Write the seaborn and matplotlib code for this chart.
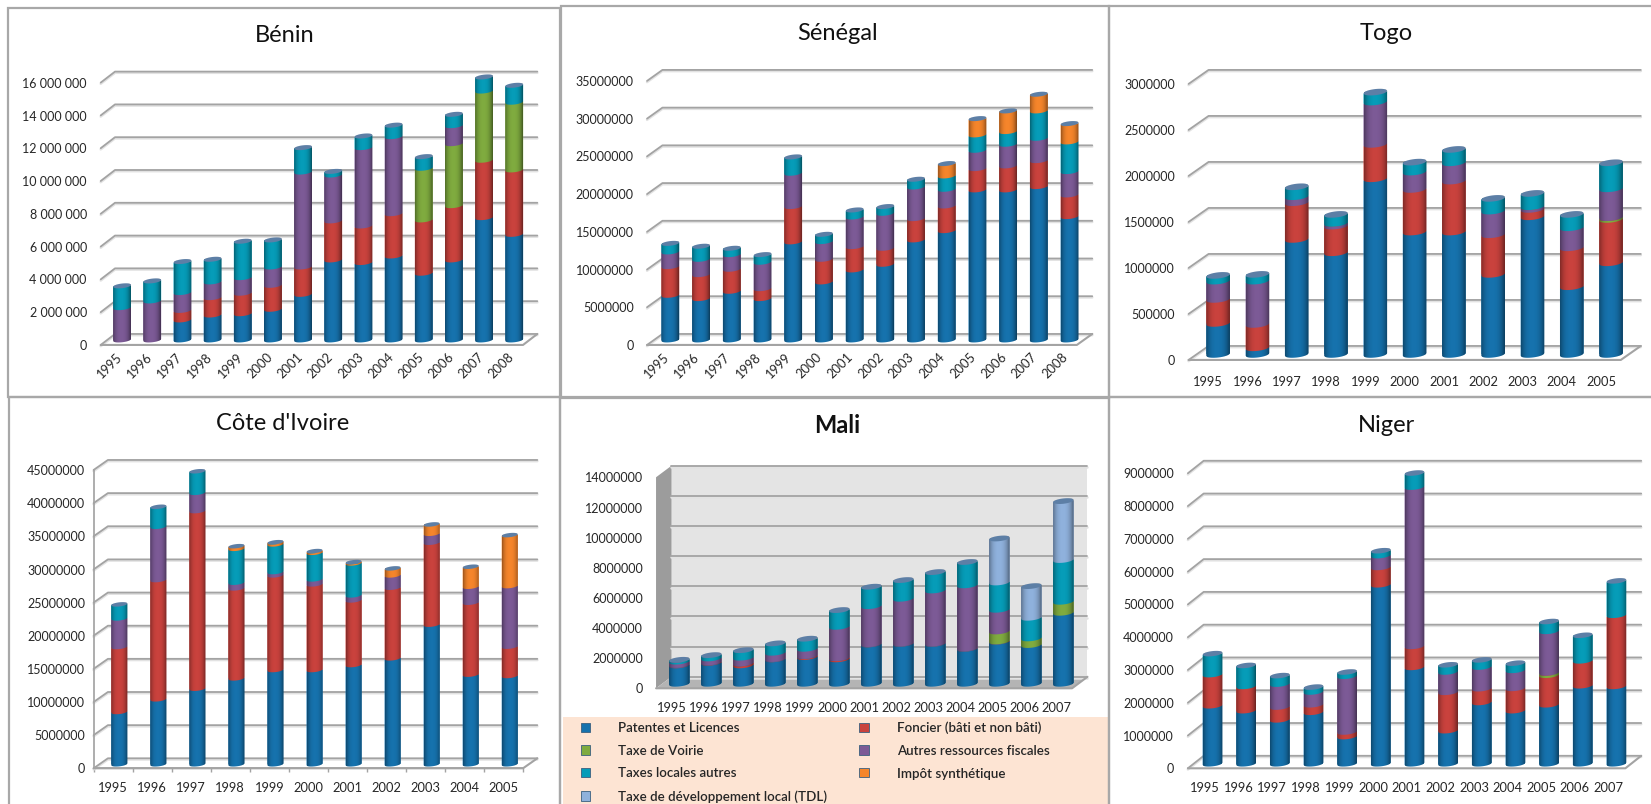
import numpy as np
import pandas as pd
import matplotlib
matplotlib.use('Agg')
import matplotlib.pyplot as plt
from matplotlib.patches import Patch, Polygon, Rectangle
import seaborn as sns

W, H = 1651, 804

# values in millions
years_14 = [str(y) for y in range(1995, 2009)]
years_13 = [str(y) for y in range(1995, 2008)]
years_11 = [str(y) for y in range(1995, 2006)]

benin_patentes = [0, 0, 1.22, 1.52, 1.6, 1.87, 2.78, 4.88, 4.72, 5.12, 4.07, 4.88, 7.46, 6.44]
benin_foncier = [0, 0, .58, 1.06, 1.25, 1.46, 1.67, 2.38, 2.23, 2.58, 3.25, 3.31, 3.5, 3.93]
benin_voirie = [0, 0, 0, 0, 0, 0, 0, 0, 0, 0, 3.15, 3.78, 4.22, 4.13]
benin_autres = [1.97, 2.38, 1.09, .96, .95, 1.12, 5.79, 2.8, 4.78, 4.7, 0, 1.1, 0, 0]
benin_taxes = [1.33, 1.22, 1.89, 1.38, 2.22, 1.65, 1.49, .22, .71, .7, .71, .69, .86, 1.03]

senegal_patentes = [5.92, 5.48, 6.45, 5.48, 13.0, 7.69, 9.28, 10.03, 13.26, 14.49, 19.89, 19.89, 20.33, 16.35]
senegal_foncier = [3.8, 3.18, 2.92, 1.32, 4.68, 3.0, 3.09, 2.12, 2.82, 3.27, 2.82, 3.18, 3.44, 2.87]
senegal_autres = [1.95, 2.03, 1.94, 3.5, 4.42, 2.35, 3.93, 4.64, 4.2, 2.21, 2.43, 2.87, 2.96, 3.1]
senegal_taxes = [1.13, 1.73, .84, 1.01, 2.16, .96, .93, .89, 1.02, 1.77, 2.04, 1.68, 3.63, 3.93]
senegal_impot = [0, 0, 0, 0, 0, 0, 0, 0, 0, 1.64, 2.16, 2.74, 2.21, 2.43]

togo_patentes = [.337, .072, 1.25, 1.105, 1.909, 1.33, 1.33, .87, 1.496, .736, .996]
togo_foncier = [.261, .254, .399, .29, .374, .463, .554, .431, .08, .423, .471]
togo_voirie = [0, 0, 0, 0, 0, 0, 0, 0, 0, 0, .019]
togo_autres = [.199, .471, .065, .029, .46, .189, .199, .257, .029, .218, .314]
togo_taxes = [.062, .073, .108, .098, .108, .108, .145, .138, .145, .145, .283]

ci_patentes = [7.89, 9.8, 11.4, 12.96, 14.22, 14.22, 14.97, 15.98, 21.06, 13.52, 13.32]
ci_foncier = [9.8, 17.99, 26.79, 13.57, 14.27, 12.92, 9.75, 10.65, 12.36, 10.85, 4.42]
ci_autres = [4.31, 8.04, 2.76, .86, .51, .75, .76, 1.86, 1.35, 2.41, 9.14]
ci_taxes = [2.12, 3.01, 3.25, 5.11, 4.17, 4.01, 4.82, 0, 0, 0, 0]
ci_impot = [0, 0, 0, .4, .33, .26, .2, 1.06, 1.41, 3.02, 7.69]

mali_patentes = [1.22, 1.39, 1.22, 1.62, 1.77, 1.62, 2.61, 2.65, 2.65, 2.32, 2.79, 2.57, 4.71]
mali_foncier = [.03, .03, .13, .02, .07, .08, .02, .02, .02, .02, .02, 0, 0]
mali_voirie = [0, 0, 0, 0, 0, 0, 0, 0, 0, 0, .66, .44, .73]
mali_autres = [.22, .26, .38, .42, .48, 2.08, 2.52, 2.97, 3.52, 4.19, 1.44, 0, 0]
mali_taxes = [.12, .22, .5, .62, .67, 1.11, 1.29, 1.24, 1.22, 1.55, 1.81, 1.37, 2.77]
mali_tdl = [0, 0, 0, 0, 0, 0, 0, 0, 0, 0, 2.92, 2.1, 3.91]

niger_patentes = [1.77, 1.62, 1.34, 1.57, .83, 5.46, 2.94, 1.01, 1.87, 1.62, 1.8, 2.38, 2.36]
niger_foncier = [.95, .74, .39, .23, .14, .53, .64, 1.17, .42, .68, .9, .76, 2.17]
niger_voirie = [0, 0, 0, 0, 0, 0, 0, 0, 0, 0, .07, 0, 0]
niger_autres = [0, 0, .7, .39, 1.7, .36, 4.86, .62, .66, .55, 1.27, 0, 0]
niger_taxes = [.64, .64, .26, .15, .13, .15, .43, .22, .22, .22, .3, .78, 1.05]

legend_labels = ['Patentes et Licences', 'Foncier (bâti et non bâti)', 'Taxe de Voirie',
                 'Autres ressources fiscales', 'Taxes locales autres', 'Impôt synthétique',
                 'Taxe de développement local (TDL)']
colors = {'Patentes et Licences': '#1672AD', 'Foncier (bâti et non bâti)': '#C9423D',
          'Taxe de Voirie': '#7FAB3F', 'Autres ressources fiscales': '#7C5A96',
          'Taxes locales autres': '#069CB8', 'Impôt synthétique': '#F5852B',
          'Taxe de développement local (TDL)': '#8FB1DC'}
P, F, V, A, T, I, D = legend_labels

sns.set_theme(style='white')
plt.rcParams['font.family'] = ['Lato', 'DejaVu Sans']

fig = plt.figure(figsize=((W + 0.1) / 100, (H + 0.1) / 100), dpi=100, facecolor='white')


def place(left, top, right, bottom, **kw):
    return fig.add_axes([left / W, 1 - bottom / H, (right - left) / W, (bottom - top) / H], **kw)


def box(left, top, right, bottom, **kw):
    fig.add_artist(Rectangle((left / W, 1 - bottom / H), (right - left) / W, (bottom - top) / H,
                             transform=fig.transFigure, **kw))


def arc(v, s, b, sign):
    u = np.linspace(-1, 1, 30)
    return u, v + s * u + sign * b * np.sqrt(1 - u ** 2)


def draw_panel(series, years, ticks, title, geom, rotate=False, spaced=False, bold=False, walls=False,
               axis_line=False, xpad=10):
    left, right, zero_y, top_y, dx, dy, sx, sy, bar_w, ypad = geom
    n = len(years)
    ymax = ticks[-1]
    per_px = ymax / (zero_y - top_y)
    cat_px = (right - left) / n
    ddx, ddy = dx / cat_px, -dy * per_px

    ax = place(left, top_y, right, zero_y, zorder=1)
    ax.patch.set_visible(False)
    ax.set_xlim(-0.5, n - 0.5)
    ax.set_ylim(0, ymax)
    x0, x1 = -0.5, n - 0.5

    if walls:
        ax.fill([x0 + ddx, x1 + ddx, x1 + ddx, x0 + ddx], [ddy, ddy, ymax + ddy, ymax + ddy],
                color='#E4E4E4', clip_on=False, lw=0, zorder=0)
        ax.fill([x0, x0 + ddx, x0 + ddx, x0], [0, ddy, ymax + ddy, ymax], color='#9C9C9C', clip_on=False, lw=0, zorder=0)
        ax.fill([x0, x1, x1 + ddx, x0 + ddx], [0, 0, ddy, ddy], color='#B4B4B4', clip_on=False, lw=0, zorder=0)

    for t in ticks:
        gx = [x0 + ddx, x1 + ddx] if walls else [x0, x0 + ddx, x1 + ddx]
        gy = [t + ddy, t + ddy] if walls else [t, t + ddy, t + ddy]
        ax.plot(gx, np.array(gy) - 1.2 * per_px, color='#E2E2E2', lw=1.8, clip_on=False, zorder=1)
        ax.plot(gx, gy, color='#A3A3A3', lw=1.3, clip_on=False, zorder=2)
    # floor outline
    ax.plot([x0, x1, x1 + ddx], [0, 0, ddy], color='#A3A3A3', lw=1.5, clip_on=False, zorder=2)

    labels = [f'{t * 1000000:,.0f}'.replace(',', ' ' if spaced else '') for t in ticks]
    ax.set_yticks(ticks)
    ax.set_yticklabels(labels)
    ax.set_xticks(range(n))
    ax.set_xticklabels(years)
    ax.tick_params(axis='y', length=3 if axis_line else 0, color='#A3A3A3', pad=ypad, labelsize=9,
                   labelcolor='#262626')
    ax.tick_params(axis='x', length=0, pad=xpad, labelsize=9.3, labelcolor='#262626')
    if rotate:
        for lab in ax.get_xticklabels():
            lab.set(rotation=45, ha='right', va='top', rotation_mode='anchor')
    sns.despine(ax=ax, left=not axis_line, bottom=not axis_line)
    for sp in ax.spines.values():
        sp.set_color('#A3A3A3')
    if axis_line:
        ax.set_xticks(np.arange(n + 1) - 0.5, minor=True)
        ax.tick_params(axis='x', which='minor', length=3, color='#A3A3A3', bottom=True)

    # bars live on a plane pushed back half way through the chart depth
    pad = 9
    bar_ax = place(left + sx, top_y - sy - pad, right + sx, zero_y - sy + pad, zorder=2)
    bar_ax.patch.set_visible(False)
    bottoms = np.zeros(n)
    tops = np.zeros((len(series), n))
    for k, (name, values) in enumerate(series):
        df = pd.DataFrame({'year': years, 'value': values})
        sns.barplot(data=df, x='year', y='value', color=colors[name], saturation=1, width=bar_w,
                    bottom=bottoms, errorbar=None, ax=bar_ax, linewidth=0, zorder=3)
        bottoms = bottoms + np.array(values)
        tops[k] = bottoms

    w_px = bar_w * cat_px
    b = 0.13 * w_px * per_px
    s = 0.055 * w_px * per_px
    grad_u = np.linspace(0, 1, 80)
    shade = 0.42 * np.abs(2 * grad_u - 0.95) ** 2.6
    grad = np.zeros((1, 80, 4))
    grad[..., 3] = np.clip(shade, 0, 0.5)

    for i in range(n):
        hw = bar_w / 2
        prev = 0.0
        for k, (name, values) in enumerate(series):
            if values[i] <= 0:
                continue
            v = tops[k, i]
            u, low = arc(prev, s, b, -1)
            u2, up = arc(v, s, b, -1)
            xy = np.r_[np.c_[i + hw * u, low], np.c_[i + hw * u2[::-1], up[::-1]]]
            bar_ax.add_patch(Polygon(xy, closed=True, fc=colors[name], ec='none', zorder=4))
            prev = v
        u, low = arc(0.0, s, b, -1)
        u2, up = arc(prev, s, b, 1)
        sil = Polygon(np.r_[np.c_[i + hw * u, low], np.c_[i + hw * u2[::-1], up[::-1]]], closed=True,
                      transform=bar_ax.transData)
        for patch in bar_ax.patches:
            if isinstance(patch, Rectangle) and abs(patch.get_x() + patch.get_width() / 2 - i) < 0.01:
                patch.set_clip_path(sil)
        im = bar_ax.imshow(grad, extent=(i - hw, i + hw, -3 * b, prev + 3 * b), aspect='auto', zorder=5)
        im.set_clip_path(sil)
        # top of the cylinder
        u3, cap_up = arc(prev, s, b, 1)
        u4, cap_low = arc(prev, s, b, -1)
        cap = np.r_[np.c_[i + hw * u3, cap_up], np.c_[i + hw * u4[::-1], cap_low[::-1]]]
        bar_ax.add_patch(Polygon(cap, closed=True, fc='#5D7FA6', ec='none', zorder=6))

    bar_ax.set_xlim(-0.5, n - 0.5)
    bar_ax.set_ylim(-pad * per_px, ymax + pad * per_px)
    bar_ax.axis('off')

    fig.text(title[1] / W, 1 - title[2] / H, title[0], ha='center', va='center', fontsize=17,
             fontweight='bold' if bold else 'normal', color='#111111')


# panel frames and the Mali legend background
frame = dict(fill=False, ec='#A8A8A8', lw=1.6, zorder=10)
box(8, 8, 560, 397, **frame)
box(561, 6, 1109, 398, **frame)
box(1109, 6, 1660, 397, **frame)
box(9, 397, 560, 830, **frame)
box(560, 397, 1109, 830, **frame)
box(1109, 397, 1660, 830, **frame)
box(563, 717, 1108, 804, fc='#FDE4D3', ec='none', zorder=0)

draw_panel([(P, benin_patentes), (F, benin_foncier), (V, benin_voirie), (A, benin_autres), (T, benin_taxes)],
           years_14, [0, 2, 4, 6, 8, 10, 12, 14, 16], ('Bénin', 284.6, 35),
           (100.7, 523, 345, 82.7, 14.3, -11, 6.3, 5, 0.59, 10), rotate=True, spaced=True, xpad=4)
draw_panel([(P, senegal_patentes), (F, senegal_foncier), (A, senegal_autres), (T, senegal_taxes), (I, senegal_impot)],
           years_14, [0, 5, 10, 15, 20, 25, 30, 35], ('Sénégal', 837.5, 33),
           (647, 1076.8, 345, 81, 15.4, -11, 8, 5, 0.58, 9.5), rotate=True, xpad=4)
draw_panel([(P, togo_patentes), (F, togo_foncier), (V, togo_voirie), (A, togo_autres), (T, togo_taxes)],
           years_11, [0, .5, 1, 1.5, 2, 2.5, 3], ('Togo', 1386, 33),
           (1188.5, 1620.7, 360, 84, 20, -14, 9.9, 5.5, 0.6, 9.7), xpad=11.5)
draw_panel([(P, ci_patentes), (F, ci_foncier), (A, ci_autres), (T, ci_taxes), (I, ci_impot)],
           years_11, [0, 5, 10, 15, 20, 25, 30, 35, 40, 45], ("Côte d'Ivoire", 283, 423),
           (93.6, 523, 768.3, 470, 14.3, -10, 6.2, 4, 0.41, 3), axis_line=True)
draw_panel([(P, mali_patentes), (F, mali_foncier), (V, mali_voirie), (A, mali_autres), (T, mali_taxes), (D, mali_tdl)],
           years_13, [0, 2, 4, 6, 8, 10, 12, 14], ('Mali', 836.8, 425),
           (656, 1072, 688.3, 477.3, 15.4, -11.5, 7.3, 4.5, 0.64, 9.4), bold=True, walls=True)
draw_panel([(P, niger_patentes), (F, niger_foncier), (V, niger_voirie), (A, niger_autres), (T, niger_taxes)],
           years_13, [0, 1, 2, 3, 4, 5, 6, 7, 8, 9], ('Niger', 1386, 425),
           (1187.8, 1625.3, 768.3, 473.3, 15.8, -12.5, 7.8, 4.5, 0.585, 10))

handles = [Patch(fc=colors[name], ec='#3A5F7F', lw=0.6, label=name) for name in legend_labels]
# ncol fills by column, so reorder to read row by row like the original
order = [0, 2, 4, 6, 1, 3, 5]
fig.legend(handles=[handles[i] for i in order], ncol=2, loc='upper left',
           bbox_to_anchor=(581 / W, 1 - 721.5 / H), borderaxespad=0, borderpad=0, frameon=False,
           handlelength=0.7, handleheight=0.7, handletextpad=2.1, columnspacing=2.4, labelspacing=0.8,
           prop={'family': 'Lato', 'weight': 'semibold', 'size': 9.6}, labelcolor='#262626')

fig.savefig('out.png', dpi=100)
